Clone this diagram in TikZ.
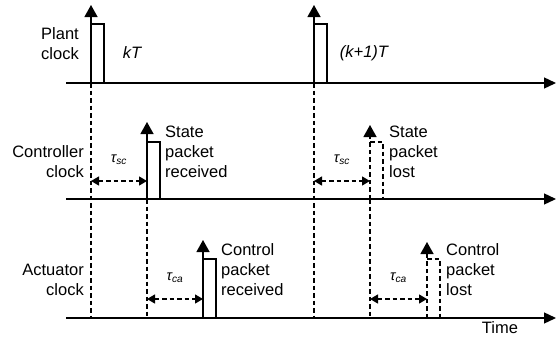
\documentclass[tikz,border=0pt]{standalone}
\usepackage{fontspec}
\setmainfont{Liberation Sans}
\usetikzlibrary{arrows.meta}

\begin{document}
\begin{tikzpicture}[
    x=1pt, y=-1pt,
    font=\fontsize{16.5}{20}\selectfont,
    axis/.style={line width=1.3pt, -{Triangle[length=12pt, width=11pt]}},
    tick/.style={line width=1.3pt, -{Triangle[length=12pt, width=13pt]}},
    pulse/.style={line width=1.1pt},
    guide/.style={line width=1.3pt, dash pattern=on 4.5pt off 3pt},
    delay/.style={guide, {Triangle[length=8pt, width=9pt]}-{Triangle[length=8pt, width=9pt]}},
    tag/.style={align=left, anchor=west, inner sep=0pt},
    clk/.style={align=right, anchor=east, inner sep=0pt},
    tau/.style={font=\fontsize{14.5}{16}\selectfont\itshape, inner sep=0pt},
]
\useasboundingbox (0,0) rectangle (557,340);

% ejes de tiempo
\foreach \ax/\y in {plant/83, ctrl/199, act/318} {
    \coordinate (\ax0) at (66,\y);
    \coordinate (\ax1) at (556,\y);
    \draw[axis] (\ax0) -- (\ax1);
}

% pulsos recibidos
\foreach \n/\x/\y/\h/\t in {pk/91/83/59/78, pk1/314/83/59/78, sr/147/199/57/77, cr/203/318/59/78} {
    \coordinate (\n) at (\x,\y);
    \draw[tick] (\n) -- ++(0,-\t);
    \draw[pulse] (\n) ++(0,-\h) -| ++(13,\h);
}

% pulsos perdidos
\foreach \n/\x/\y/\h/\t in {sl/370/199/57/74, cl/427/318/59/76} {
    \coordinate (\n) at (\x,\y);
    \draw[guide, -{Triangle[length=12pt, width=13pt]}] (\n) -- ++(0,-\t);
    \draw[guide] (\n) ++(0,-\h) -| ++(13,\h);
}

% lineas guia
\foreach \n in {pk, pk1, sr, sl}
    \draw[guide] (\n) -- (\n|-act0);

% retardos
\coordinate (dsc) at (0,181);
\coordinate (dca) at (0,299);
\draw[delay] (pk|-dsc) -- node[tau, above=16pt] (tsc1) {τ\textsubscript{sc}} (sr|-dsc);
\draw[delay] (pk1|-dsc) -- node[tau, above=16pt] (tsc2) {τ\textsubscript{sc}} (sl|-dsc);
\draw[delay] (sr|-dca) -- node[tau, above=16pt] (tca1) {τ\textsubscript{ca}} (cr|-dca);
\draw[delay] (sl|-dca) -- node[tau, above=16pt] (tca2) {τ\textsubscript{ca}} (cl|-dca);

% textos
\node[clk] (plantlbl) at (79,44) {Plant\\clock};
\node[clk] (ctrllbl) at (84,162) {Controller\\clock};
\node[clk] (actlbl) at (84,280) {Actuator\\clock};
\node[tag] (srlbl) at (165,152) {State\\packet\\received};
\node[tag] (sllbl) at (389,152) {State\\packet\\lost};
\node[tag] (crlbl) at (221,270) {Control\\packet\\received};
\node[tag] (cllbl) at (446,270) {Control\\packet\\lost};
\node[font=\fontsize{16.5}{20}\selectfont\itshape] (kT) at (132,53) {kT};
\node[font=\fontsize{16.5}{20}\selectfont\itshape] (k1T) at (364,53) {(k+1)T};
\node (time) at (500,328) {Time};

\end{tikzpicture}
\end{document}
